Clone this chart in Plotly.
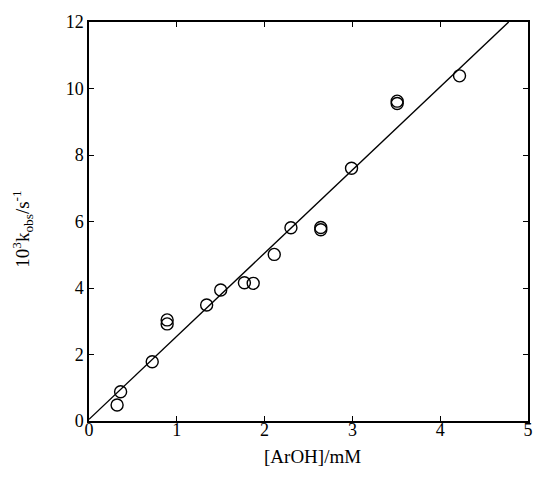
import plotly.graph_objects as go
import numpy as np

# Data
aroh_mM = [0.32, 0.36, 0.72, 0.89, 0.89, 1.34, 1.50, 1.77, 1.87, 2.11, 2.30, 2.64, 2.64, 2.99, 3.51, 3.51, 4.22]
kobs_1e3 = [0.48, 0.88, 1.78, 3.04, 2.92, 3.49, 3.94, 4.16, 4.14, 5.01, 5.81, 5.75, 5.82, 7.60, 9.55, 9.62, 10.38]

fit_slope = 2.50
fit_intercept = 0.05
fit_x_range = [0.0, 4.78]

x_ticks = [0, 1, 2, 3, 4, 5]
y_ticks = [0, 2, 4, 6, 8, 10, 12]

fx = np.array(fit_x_range)
fy = fit_intercept + fit_slope * fx

font_family = "Liberation Serif"

fig = go.Figure()
fig.add_trace(go.Scatter(x=fx, y=fy, mode="lines",
                         line=dict(color="black", width=1.4), showlegend=False, hoverinfo="skip"))
fig.add_trace(go.Scatter(x=aroh_mM, y=kobs_1e3, mode="markers",
                         marker=dict(symbol="circle-open", size=12, color="black", line=dict(width=1.4)),
                         showlegend=False))

axis_common = dict(showline=True, linecolor="black", linewidth=1.5, mirror="ticks",
                   ticks="inside", ticklen=5, tickcolor="black", tickwidth=1,
                   showgrid=False, zeroline=False, automargin=False,
                   ticklabeloverflow="allow",
                   tickfont=dict(family=font_family, size=18, color="black"))

fig.update_xaxes(range=[0, 5], tickvals=x_ticks, ticktext=[str(v) for v in x_ticks],
                 ticklabelstandoff=-8, **axis_common)
fig.update_yaxes(range=[0, 12], tickvals=y_ticks, ticktext=[str(v) for v in y_ticks], **axis_common)

fig.add_annotation(text="[ArOH]/mM", xref="paper", yref="paper", x=0.508, y=-0.09,
                   xanchor="center", yanchor="middle", showarrow=False,
                   font=dict(family=font_family, size=19, color="black"))
fig.add_annotation(text="10<sup>3</sup>k<sub>obs</sub>/s<sup>-1</sup>", xref="paper", yref="paper",
                   x=-0.152, y=0.48, xanchor="center", yanchor="middle", textangle=-90, showarrow=False,
                   font=dict(family=font_family, size=19, color="black"))

fig.update_layout(width=534, height=483, margin=dict(l=89, r=6, t=22, b=62, autoexpand=False),
                  plot_bgcolor="white", paper_bgcolor="white")

fig.write_html("out.html", config={"displayModeBar": False},
               post_script="document.body.style.margin='0';document.body.style.overflow='hidden';")
